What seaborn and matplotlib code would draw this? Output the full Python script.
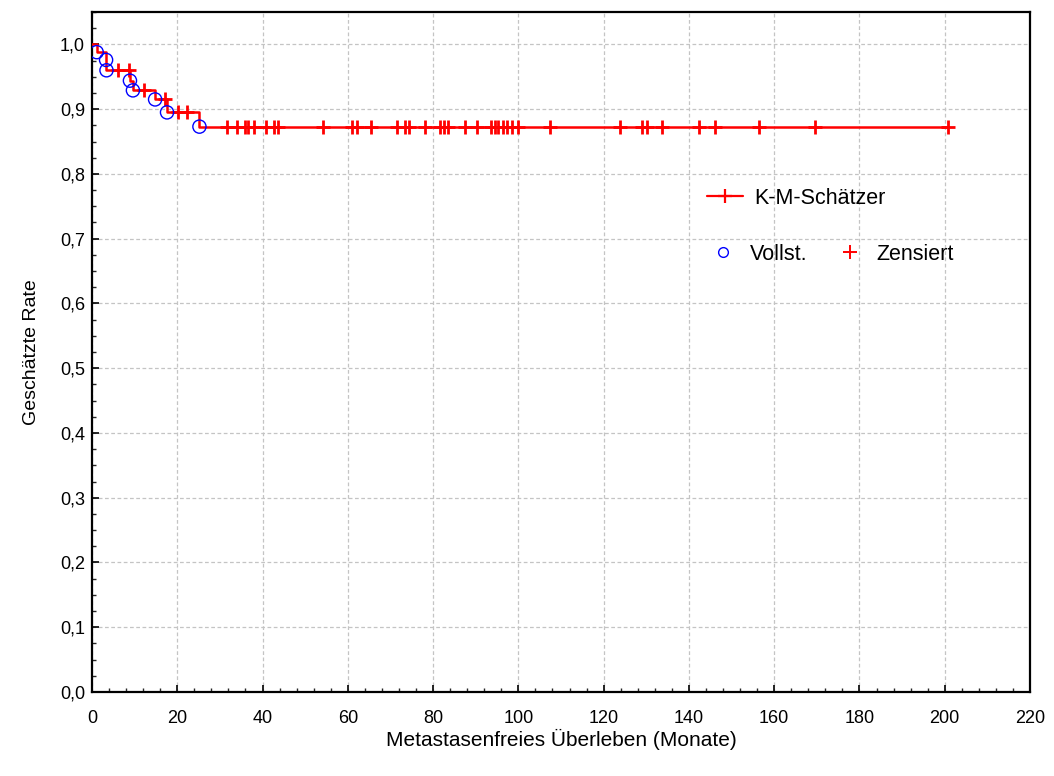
import numpy as np
import pandas as pd
import matplotlib
matplotlib.use("Agg")
import matplotlib.pyplot as plt
from matplotlib.lines import Line2D
from matplotlib.ticker import MultipleLocator
import seaborn as sns

# ---------------- data ----------------
event_times = [1.1, 3.3, 3.4, 8.9, 9.6, 14.8, 17.6, 25.2]
event_surv = [0.988, 0.976, 0.960, 0.944, 0.929, 0.915, 0.895, 0.873]
censor_times = [6.2, 8.7, 12.2, 17.2, 20.2, 22.2,
                31.6, 33.9, 35.9, 36.7, 38.1, 40.8, 42.8, 43.7, 54.2,
                61.0, 62.1, 65.4, 71.5, 73.4, 74.4, 78.1, 81.6, 82.6, 83.5,
                87.5, 90.2, 93.6, 94.5, 95.2, 96.4, 97.3, 98.5, 99.9,
                107.4, 123.8, 128.9, 130.1, 133.7, 142.3, 146.1, 156.4,
                169.6, 200.8]
x_ticks = [0, 20, 40, 60, 80, 100, 120, 140, 160, 180, 200, 220]
y_ticks = [0.0, 0.1, 0.2, 0.3, 0.4, 0.5, 0.6, 0.7, 0.8, 0.9, 1.0]
y_tick_labels = ["0,0", "0,1", "0,2", "0,3", "0,4", "0,5", "0,6", "0,7", "0,8", "0,9", "1,0"]
x_label = "Metastasenfreies Überleben (Monate)"
y_label = "Geschätzte Rate"
legend_curve = "K-M-Schätzer"
legend_event = "Vollst."
legend_censor = "Zensiert"

# ---------------- derived tables ----------------
step_t = [0.0] + event_times + [max(censor_times)]
step_s = [1.0] + event_surv + [event_surv[-1]]
curve = pd.DataFrame({"t": step_t, "s": step_s})
events = pd.DataFrame({"t": event_times, "s": event_surv})
lvl = np.array([1.0] + event_surv)
idx = np.searchsorted(np.array(event_times), np.array(censor_times), side="right")
censored = pd.DataFrame({"t": censor_times, "s": lvl[idx]})

# ---------------- style ----------------
sns.set_style("ticks")
plt.rcParams["font.family"] = ["Liberation Sans", "DejaVu Sans"]
plt.rcParams["text.color"] = "black"
plt.rcParams["axes.labelcolor"] = "black"
plt.rcParams["legend.labelcolor"] = "black"

RED = "#ff0000"
BLUE = "#0000ff"

fig = plt.figure(figsize=(10.54, 7.76), dpi=100)
ax = fig.add_axes([92 / 1054, 1 - 692 / 776, (1030 - 92) / 1054, (692 - 12) / 776])

sns.lineplot(data=curve, x="t", y="s", ax=ax, estimator=None, sort=False,
             drawstyle="steps-post", color=RED, linewidth=1.8, zorder=3)
sns.scatterplot(data=censored, x="t", y="s", ax=ax, marker="+", s=100,
                color=RED, linewidth=2.0, zorder=4)
sns.scatterplot(data=events, x="t", y="s", ax=ax, marker="o", s=90,
                facecolors="none", edgecolor=BLUE, linewidth=1.0, zorder=5)

ax.set_xlim(0, 220)
ax.set_ylim(0, 1.05)
ax.set_xticks(x_ticks)
ax.set_xticklabels([str(v) for v in x_ticks])
ax.set_yticks(y_ticks)
ax.set_yticklabels(y_tick_labels)
ax.xaxis.set_minor_locator(MultipleLocator(4))
ax.yaxis.set_minor_locator(MultipleLocator(0.025))
ax.tick_params(axis="both", which="major", direction="in", length=5, width=1.2,
               labelsize=13, colors="black")
ax.tick_params(axis="both", which="minor", direction="in", length=3, width=1.0)
ax.tick_params(axis="x", which="major", pad=13)
ax.tick_params(axis="y", which="major", pad=5)
ax.grid(True, which="major", linestyle=(0, (3, 2)), color="#c4c4c4", linewidth=0.9)
ax.set_axisbelow(True)
for sp in ax.spines.values():
    sp.set_visible(True)
    sp.set_color("black")
    sp.set_linewidth(1.6)

ax.set_xlabel(x_label, fontsize=15, labelpad=1, color="black")
ax.set_ylabel(y_label, fontsize=14, labelpad=14, color="black")

# legends
h1 = Line2D([], [], color=RED, linewidth=1.6, marker="+", markersize=10, markeredgewidth=1.6)
leg1 = ax.legend([h1], [legend_curve], loc="center left",
                 bbox_to_anchor=(707 / 1054, 1 - 198 / 776), bbox_transform=fig.transFigure,
                 frameon=False, fontsize=15.5, handlelength=1.65, handletextpad=0.55,
                 borderpad=0, borderaxespad=0, labelcolor="black")
ax.add_artist(leg1)
h2 = Line2D([], [], linestyle="none", marker="o", markersize=7, markerfacecolor="none",
            markeredgecolor=BLUE, markeredgewidth=1.0)
h3 = Line2D([], [], linestyle="none", marker="+", markersize=10, color=RED, markeredgewidth=1.4)
ax.legend([h2, h3], [legend_event, legend_censor], loc="center left", ncol=2,
          bbox_to_anchor=(713 / 1054, 1 - 254 / 776), bbox_transform=fig.transFigure,
          frameon=False, fontsize=15.5, handlelength=0.95, handletextpad=0.75,
          columnspacing=1.5, borderpad=0, borderaxespad=0, labelcolor="black")

fig.savefig("out.png", dpi=100)
